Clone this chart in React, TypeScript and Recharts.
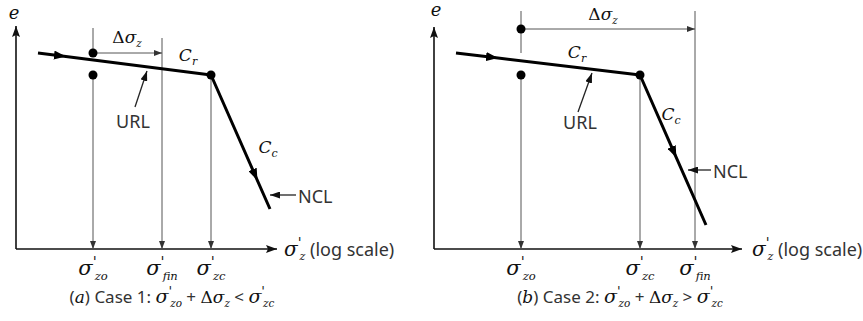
import React from 'react';
import { ComposedChart, Line, XAxis, YAxis, ReferenceLine, ReferenceDot } from 'recharts';

type P = { x: number; e: number };
type Seg = { t: string; k?: 'sans' | 'serif' | 'ital'; fs?: number; b?: number; dx?: number };
type Lbl = { x: number; e: number; anchor: 'start' | 'middle' | 'end'; segs: Seg[] };
type VSeg = { x: number; from: number; to: number; arrow: boolean };

const FONT_SANS = "'Noto Sans', 'Liberation Sans', sans-serif";
const FONT_SERIF = "'DejaVu Serif', 'Liberation Serif', serif";

// text helpers
const sig = (sub: string, fs: number): Seg[] => [
  { t: 'σ', k: 'ital', fs },
  { t: "'", k: 'serif', fs: fs * 0.7, b: -fs * 0.38, dx: 0 },
  { t: sub, k: 'ital', fs: fs * 0.55, b: fs * 0.22, dx: -2 },
];
const dsig = (fs: number): Seg[] => [
  { t: 'Δ', k: 'serif', fs, b: 0 },
  { t: 'σ', k: 'ital', fs, b: 0 },
  { t: 'z', k: 'ital', fs: fs * 0.6, b: fs * 0.25 },
];
const coef = (sub: string): Seg[] => [
  { t: 'C', k: 'ital', fs: 17, b: 0 },
  { t: sub, k: 'ital', fs: 11, b: 4 },
];
const sans = (t: string, fs = 17): Seg => ({ t, k: 'sans', fs, b: 0 });

// ---------- Panel (a): Case 1 ----------
const aCurveURL: P[] = [{ x: 0.22, e: 1.96 }, { x: 0.44, e: 1.932 }, { x: 1.95, e: 1.74 }];
const aCurveNCL: P[] = [{ x: 1.95, e: 1.74 }, { x: 2.39, e: 0.74 }, { x: 2.54, e: 0.4 }];
const aTicks = [0.77, 1.46, 1.95];
const aTickSubs = ['zo', 'fin', 'zc'];
const aDots: P[] = [{ x: 0.77, e: 1.96 }, { x: 0.77, e: 1.74 }, { x: 1.95, e: 1.74 }];
const aVerticals: VSeg[] = [
  { x: 0.77, from: 2.21, to: 1.96, arrow: false },
  { x: 0.77, from: 1.74, to: 0, arrow: true },
  { x: 1.46, from: 2.11, to: 0, arrow: true },
  { x: 1.95, from: 1.74, to: 0, arrow: true },
];
const aDelta = { e: 1.96, from: 0.77, to: 1.46 };
const aAxisEnd: P = { x: 2.61, e: 2.23 };
const aPointers: [P, P][] = [
  [{ x: 1.19, e: 1.42 }, { x: 1.31, e: 1.78 }],
  [{ x: 2.8, e: 0.54 }, { x: 2.54, e: 0.54 }],
];
const aLabels: Lbl[] = [
  { x: -0.02, e: 2.3, anchor: 'middle', segs: [{ t: 'e', k: 'ital', fs: 18 }] },
  { x: 1.11, e: 2.06, anchor: 'middle', segs: dsig(17) },
  { x: 1.72, e: 1.88, anchor: 'middle', segs: coef('r') },
  { x: 1.17, e: 1.21, anchor: 'middle', segs: [sans('URL', 18)] },
  { x: 2.52, e: 0.96, anchor: 'middle', segs: coef('c') },
  { x: 2.82, e: 0.46, anchor: 'start', segs: [sans('NCL', 18)] },
  { x: 2.68, e: -0.07, anchor: 'start', segs: [...sig('z', 20), sans(' (log scale)', 18)] },
  {
    x: 1.56, e: -0.54, anchor: 'middle',
    segs: [sans('('), { t: 'a', k: 'ital', fs: 17, b: 0 }, sans(') Case 1: '), ...sig('zo', 19), sans(' + '), ...dsig(17), sans(' < '), ...sig('zc', 19)],
  },
];

// ---------- Panel (b): Case 2 ----------
const bCurveURL: P[] = [{ x: 0.22, e: 1.96 }, { x: 0.58, e: 1.917 }, { x: 2.06, e: 1.74 }];
const bCurveNCL: P[] = [{ x: 2.06, e: 1.74 }, { x: 2.4, e: 0.967 }, { x: 2.72, e: 0.24 }];
const bTicks = [0.87, 2.06, 2.61];
const bTickSubs = ['zo', 'zc', 'fin'];
const bDots: P[] = [{ x: 0.87, e: 2.2 }, { x: 0.87, e: 1.74 }, { x: 2.06, e: 1.74 }];
const bVerticals: VSeg[] = [
  { x: 0.87, from: 2.38, to: 1.96, arrow: false },
  { x: 0.87, from: 1.74, to: 0, arrow: true },
  { x: 2.06, from: 1.74, to: 0, arrow: true },
  { x: 2.61, from: 2.38, to: 0, arrow: true },
];
const bDelta = { e: 2.2, from: 0.87, to: 2.61 };
const bAxisEnd: P = { x: 3.08, e: 2.22 };
const bPointers: [P, P][] = [
  [{ x: 1.44, e: 1.37 }, { x: 1.58, e: 1.76 }],
  [{ x: 2.77, e: 0.79 }, { x: 2.54, e: 0.79 }],
];
const bLabels: Lbl[] = [
  { x: 0.02, e: 2.33, anchor: 'middle', segs: [{ t: 'e', k: 'ital', fs: 18 }] },
  { x: 1.69, e: 2.29, anchor: 'middle', segs: dsig(17) },
  { x: 1.43, e: 1.91, anchor: 'middle', segs: coef('r') },
  { x: 1.46, e: 1.2, anchor: 'middle', segs: [sans('URL', 18)] },
  { x: 2.37, e: 1.29, anchor: 'middle', segs: coef('c') },
  { x: 2.79, e: 0.71, anchor: 'start', segs: [sans('NCL', 18)] },
  { x: 3.18, e: -0.07, anchor: 'start', segs: [...sig('z', 20), sans(' (log scale)', 18)] },
  {
    x: 1.86, e: -0.54, anchor: 'middle',
    segs: [sans('('), { t: 'b', k: 'ital', fs: 17, b: 0 }, sans(') Case 2: '), ...sig('zo', 19), sans(' + '), ...dsig(17), sans(' > '), ...sig('zc', 19)],
  },
];

const E_DOMAIN: [number, number] = [0, 2.49];

function Rich({ x, y, anchor, segs }: { x: number; y: number; anchor: string; segs: Seg[] }) {
  let prev = 0;
  return (
    <text x={x} y={y} textAnchor={anchor} fill="#222" style={{ whiteSpace: 'pre' }}>
      {segs.map((s, i) => {
        const b = s.b ?? 0;
        const dy = b - prev;
        prev = b;
        const k = s.k ?? 'sans';
        return (
          <tspan
            key={i}
            dy={dy !== 0 ? dy : undefined}
            dx={s.dx}
            fontFamily={k === 'sans' ? FONT_SANS : FONT_SERIF}
            fontStyle={k === 'ital' ? 'italic' : 'normal'}
            fontSize={s.fs ?? 17}
            fill={k === 'sans' ? '#333' : '#111'}
          >
            {s.t}
          </tspan>
        );
      })}
    </text>
  );
}

const segShape = (marker: string | null, stroke: string, width: number) => (p: any) => (
  <line
    x1={p.x1}
    y1={p.y1}
    x2={p.x2}
    y2={p.y2}
    stroke={stroke}
    strokeWidth={width}
    markerEnd={marker ? `url(#${marker})` : undefined}
  />
);

type PanelProps = {
  width: number;
  xDomain: [number, number];
  curves: P[][];
  ticks: number[];
  tickSubs: string[];
  dots: P[];
  verticals: VSeg[];
  delta: { e: number; from: number; to: number };
  axisEnd: P;
  pointers: [P, P][];
  labels: Lbl[];
};

function Panel(props: PanelProps) {
  const { width, xDomain, curves, ticks, tickSubs, dots, verticals, delta, axisEnd, pointers, labels } = props;
  const Tick = (p: any) => {
    const i = ticks.findIndex((t) => Math.abs(t - p.payload.value) < 1e-6);
    if (i < 0) return <g />;
    return <Rich x={p.x} y={p.y} anchor="middle" segs={sig(tickSubs[i], 21)} />;
  };
  return (
    <ComposedChart
      width={width}
      height={321}
      margin={{ top: 0, right: 0, bottom: 0, left: 0 }}
      style={{ overflow: 'visible' }}
    >
      <XAxis
        type="number"
        dataKey="x"
        domain={xDomain}
        allowDataOverflow
        ticks={ticks}
        interval={0}
        axisLine={false}
        tickLine={false}
        tickSize={0}
        tickMargin={26}
        height={72}
        tick={Tick}
      />
      <YAxis type="number" dataKey="e" domain={E_DOMAIN} allowDataOverflow hide />
      <ReferenceLine
        segment={[{ x: 0, y: 0 }, { x: axisEnd.x, y: 0 }]}
        ifOverflow="visible"
        shape={segShape('axisArrow', '#111', 1.6)}
      />
      <ReferenceLine
        segment={[{ x: 0, y: 0 }, { x: 0, y: axisEnd.e }]}
        ifOverflow="visible"
        shape={segShape('axisArrow', '#111', 1.6)}
      />
      {verticals.map((v, i) => (
        <ReferenceLine
          key={'v' + i}
          segment={[{ x: v.x, y: v.from }, { x: v.x, y: v.to }]}
          ifOverflow="visible"
          shape={segShape(v.arrow ? 'thinArrow' : null, '#555', 1)}
        />
      ))}
      <ReferenceLine
        segment={[{ x: delta.from, y: delta.e }, { x: delta.to, y: delta.e }]}
        ifOverflow="visible"
        shape={segShape('thinArrow', '#555', 1)}
      />
      {pointers.map((pt, i) => (
        <ReferenceLine
          key={'p' + i}
          segment={[{ x: pt[0].x, y: pt[0].e }, { x: pt[1].x, y: pt[1].e }]}
          ifOverflow="visible"
          shape={segShape('ptrArrow', '#222', 1.3)}
        />
      ))}
      {curves.map((c, i) => (
        <Line
          key={'c' + i}
          data={c}
          dataKey="e"
          type="linear"
          stroke="#000"
          strokeWidth={3}
          dot={false}
          activeDot={false}
          isAnimationActive={false}
          markerMid="url(#midArrow)"
        />
      ))}
      {dots.map((d, i) => (
        <ReferenceDot key={'d' + i} x={d.x} y={d.e} r={4.5} fill="#000" stroke="none" ifOverflow="visible" />
      ))}
      {labels.map((l, i) => (
        <ReferenceDot
          key={'l' + i}
          x={l.x}
          y={l.e}
          r={0}
          ifOverflow="visible"
          shape={(p: any) => <Rich x={p.cx} y={p.cy} anchor={l.anchor} segs={l.segs} />}
        />
      ))}
    </ComposedChart>
  );
}

export default function App() {
  return (
    <div style={{ position: 'absolute', left: 0, top: 0, width: 863, height: 321, background: '#fff' }}>
      <svg width={0} height={0} style={{ position: 'absolute' }}>
        <defs>
          <marker id="axisArrow" markerUnits="userSpaceOnUse" markerWidth={11} markerHeight={8} refX={11} refY={4} orient="auto">
            <path d="M0,0 L11,4 L0,8 L2,4 z" fill="#111" />
          </marker>
          <marker id="thinArrow" markerUnits="userSpaceOnUse" markerWidth={8} markerHeight={6} refX={8} refY={3} orient="auto">
            <path d="M0,0 L8,3 L0,6 z" fill="#333" />
          </marker>
          <marker id="ptrArrow" markerUnits="userSpaceOnUse" markerWidth={10} markerHeight={7} refX={10} refY={3.5} orient="auto">
            <path d="M0,0 L10,3.5 L0,7 z" fill="#111" />
          </marker>
          <marker id="midArrow" markerUnits="userSpaceOnUse" markerWidth={12} markerHeight={9} refX={6} refY={4.5} orient="auto">
            <path d="M0,0 L12,4.5 L0,9 z" fill="#000" />
          </marker>
        </defs>
      </svg>
      <div style={{ display: 'flex' }}>
        <Panel
          width={430}
          xDomain={[-0.16, 4.14]}
          curves={[aCurveURL, aCurveNCL]}
          ticks={aTicks}
          tickSubs={aTickSubs}
          dots={aDots}
          verticals={aVerticals}
          delta={aDelta}
          axisEnd={aAxisEnd}
          pointers={aPointers}
          labels={aLabels}
        />
        <Panel
          width={433}
          xDomain={[-0.04, 4.29]}
          curves={[bCurveURL, bCurveNCL]}
          ticks={bTicks}
          tickSubs={bTickSubs}
          dots={bDots}
          verticals={bVerticals}
          delta={bDelta}
          axisEnd={bAxisEnd}
          pointers={bPointers}
          labels={bLabels}
        />
      </div>
    </div>
  );
}
